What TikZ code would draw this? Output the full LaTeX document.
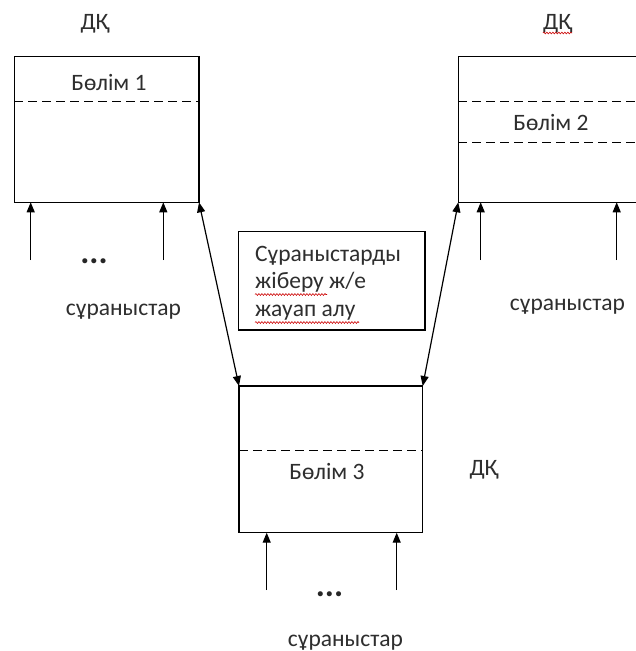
\documentclass[tikz,border=0pt]{standalone}
\usepackage{fontspec}
\setmainfont{Carlito}
\usetikzlibrary{arrows.meta,decorations.pathmorphing}
\begin{document}
\begin{tikzpicture}[x=1pt,y=-1pt,
  lbl/.style={font=\fontsize{23.5}{27}\selectfont, text=black!82, inner sep=0pt},
  dots/.style={font=\fontsize{34}{36}\selectfont\bfseries, text=black!85, inner sep=0pt},
  partbox/.style={draw, line width=1.2pt, inner sep=0pt, outer sep=0pt},
  sep/.style={line width=1.1pt, dash pattern=on 9pt off 5pt},
  req/.style={line width=1.2pt, -{Triangle[length=10pt,width=8pt]}},
  link/.style={line width=1.2pt, {Triangle[length=10pt,width=8pt]}-{Triangle[length=10pt,width=8pt]}},
  spell/.style={red!80!black, line width=0.6pt, decorate,
    decoration={snake, amplitude=0.9pt, segment length=3pt}}]
\useasboundingbox[fill=white] (0,0) rectangle (635,651);

% the three database parts
\node[partbox, minimum width=184.7pt, minimum height=145.6pt] (b1) at (106.65,129.5) {};
\node[partbox, minimum width=200pt, minimum height=145.6pt] (b2) at (558.3,129.5) {};
\node[partbox, minimum width=183.7pt, minimum height=146.7pt] (b3) at (330.85,459.35) {};

% dashed separators inside the boxes
\draw[sep] ([yshift=-45pt]b1.north west) -- ([yshift=-45pt]b1.north east);
\draw[sep] ([yshift=-45pt]b2.north west) -- ([yshift=-45pt]b2.north east);
\draw[sep] ([yshift=-86pt]b2.north west) -- ([yshift=-86pt]b2.north east);
\draw[sep] ([yshift=-64.7pt]b3.north west) -- ([yshift=-64.7pt]b3.north east);

% part titles
\node[lbl, anchor=base] (p1) at (109,90) {Бөлім 1};
\node[lbl, anchor=base] (p2) at (551,130.7) {Бөлім 2};
\node[lbl, anchor=base] (p3) at (327,479) {Бөлім 3};

% site labels
\node[lbl, anchor=base] (d1) at (95,29) {ДҚ};
\node[lbl, anchor=base] (d2) at (557.5,29) {ДҚ};
\node[lbl, anchor=base] (d3) at (484,475) {ДҚ};
\draw[spell] ([yshift=-4pt]d2.base west) -- ([yshift=-4pt]d2.base east);

% incoming requests
\coordinate (r1a) at (30.7,260);
\coordinate (r1b) at (163.3,260);
\coordinate (r2a) at (480.7,260);
\coordinate (r2b) at (616.7,260);
\coordinate (r3a) at (266.7,590);
\coordinate (r3b) at (396.7,590);
\draw[req] (r1a) -- (r1a |- b1.south);
\draw[req] (r1b) -- (r1b |- b1.south);
\draw[req] (r2a) -- (r2a |- b2.south);
\draw[req] (r2b) -- (r2b |- b2.south);
\draw[req] (r3a) -- (r3a |- b3.south);
\draw[req] (r3b) -- (r3b |- b3.south);

\node[dots, anchor=base] (e1) at (94,263) {...};
\node[dots, anchor=base] (e3) at (329.5,596) {...};

\node[lbl, anchor=base] (q1) at (123.5,315) {сұраныстар};
\node[lbl, anchor=base] (q2) at (567.5,310) {сұраныстар};
\node[lbl, anchor=base] (q3) at (345.5,646) {сұраныстар};

% links between the parts
\draw[link] (b1.south east) -- (b3.north west);
\draw[link] (b2.south west) -- (b3.north east);

% note box
\node[draw, line width=1.2pt, minimum width=186.7pt, minimum height=98.3pt, inner sep=0pt] (note) at (331.65,280.85) {};
\node[lbl, anchor=base west] (n1) at (255,261.7) {Сұраныстарды};
\node[lbl, anchor=base west] (n2) at (255,288.5) {жіберу ж/е};
\node[lbl, anchor=base west] (n3) at (255,316.5) {жауап алу};
\draw[spell] ([yshift=-6pt]n2.base west) -- ++(72,0);
\draw[spell] ([yshift=-6pt]n3.base west) -- ++(104,0);
\end{tikzpicture}
\end{document}
